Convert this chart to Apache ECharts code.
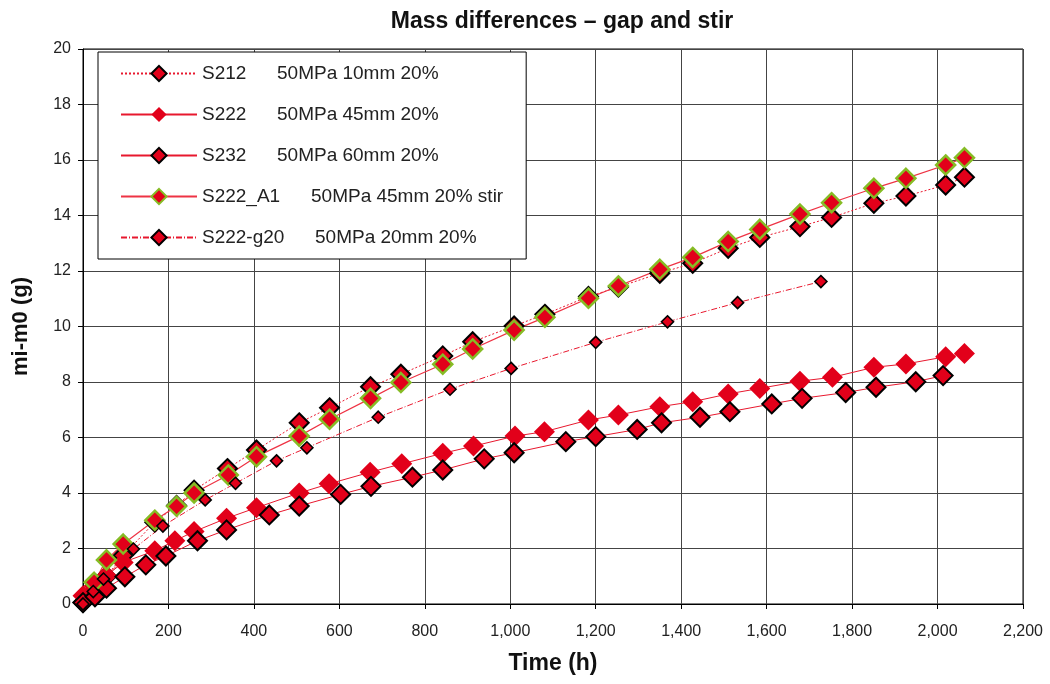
<!DOCTYPE html>
<html>
<head>
<meta charset="utf-8">
<script src="https://cdn.jsdelivr.net/npm/echarts@6/dist/echarts.min.js"></script>
<style>
html,body{margin:0;padding:0;background:#fff;}
#c{width:1050px;height:684px;}
</style>
</head>
<body>
<div id="c"></div>
<script>
// ---- data ----
const seriesNames = ['S212', 'S222', 'S232', 'S222_A1', 'S222-g20'];
const seriesDesc = ['50MPa 10mm 20%', '50MPa 45mm 20%', '50MPa 60mm 20%', '50MPa 45mm 20% stir', '50MPa 20mm 20%'];

const s212 = [[0,0.05],[26,0.45],[55,1.0],[94,1.75],[168,2.95],[219,3.55],[260,4.1],[338,4.88],[406,5.55],[506,6.53],[577,7.07],[673,7.83],[744,8.28],[842,8.94],[912,9.45],[1009,10.02],[1081,10.44],[1183,11.08],[1253,11.42],[1350,11.92],[1427,12.28],[1510,12.82],[1584,13.21],[1678,13.6],[1752,13.93],[1851,14.44],[1926,14.7],[2019,15.1],[2063,15.38]];
const s222 = [[0,0.3],[26,0.65],[55,1.02],[94,1.5],[168,1.92],[215,2.28],[260,2.61],[336,3.09],[406,3.47],[506,4.0],[576,4.33],[672,4.75],[746,5.05],[842,5.43],[914,5.69],[1011,6.05],[1080,6.21],[1183,6.63],[1253,6.81],[1350,7.11],[1427,7.29],[1510,7.57],[1584,7.77],[1678,8.03],[1754,8.17],[1851,8.53],[1926,8.65],[2019,8.91],[2063,9.03]];
const s232 = [[0,0.05],[28,0.26],[55,0.57],[98,0.98],[147,1.41],[194,1.73],[268,2.28],[336,2.67],[436,3.21],[506,3.53],[603,3.95],[674,4.24],[771,4.57],[842,4.83],[939,5.23],[1009,5.45],[1130,5.85],[1200,6.03],[1297,6.29],[1354,6.53],[1444,6.73],[1514,6.93],[1612,7.21],[1683,7.41],[1785,7.62],[1856,7.81],[1949,8.01],[2013,8.23]];
const s222a1 = [[26,0.78],[55,1.59],[94,2.16],[168,3.02],[219,3.52],[260,4.0],[340,4.65],[406,5.31],[506,6.05],[577,6.66],[673,7.41],[744,7.98],[842,8.64],[912,9.19],[1009,9.87],[1081,10.33],[1183,11.02],[1253,11.46],[1350,12.06],[1427,12.49],[1510,13.06],[1584,13.5],[1678,14.05],[1752,14.46],[1851,14.98],[1926,15.34],[2019,15.82],[2063,16.08]];
const s222g20 = [[0,0.0],[24,0.45],[48,0.9],[118,1.98],[187,2.81],[286,3.75],[357,4.35],[453,5.16],[524,5.63],[691,6.73],[859,7.74],[1002,8.49],[1200,9.43],[1368,10.17],[1532,10.86],[1727,11.62]];

const xTicks = {min: 0, max: 2200, interval: 200};
const yTicks = {min: 0, max: 20, interval: 2};

// ---- styles ----
const RED = '#e2001a';
const LINE = '#e8182e';
const GREEN = '#86bc25';
const FONT = '"Liberation Sans", Arial, sans-serif';

const chart = echarts.init(document.getElementById('c'), null, {renderer: 'canvas'});

function fmtThousands(v) {
  return String(v).replace(/\B(?=(\d{3})+(?!\d))/g, ',');
}

const keyWidths = [75, 75, 75, 109, 113];
const rich = {d: {fontSize: 19, lineHeight: 20, fontFamily: FONT, color: '#222'}};
seriesNames.forEach((n, i) => {
  rich['k' + i] = {width: keyWidths[i], fontSize: 19, lineHeight: 20, fontFamily: FONT, color: '#222'};
});

function mk(name, data, opts) {
  return Object.assign({
    name: name,
    type: 'line',
    data: data,
    symbol: 'diamond',
    symbolSize: 19,
    showAllSymbol: true,
    animation: false,
    lineStyle: {color: LINE, width: 1},
    itemStyle: {color: RED, borderColor: '#000', borderWidth: 2},
    emphasis: {disabled: true}
  }, opts);
}

const option = {
  animation: false,
  backgroundColor: '#fff',
  title: {
    text: 'Mass differences \u2013 gap and stir',
    left: 557, top: 5, textAlign: 'center',
    textStyle: {fontFamily: FONT, fontSize: 23, fontWeight: 'bold', color: '#111'}
  },
  grid: {left: 83, right: 27, top: 49, bottom: 80, show: true, borderColor: '#000', borderWidth: 1},
  legend: {
    orient: 'vertical',
    left: 98, top: 52,
    padding: [12, 23, 12, 22],
    itemGap: 22,
    itemWidth: 76,
    itemHeight: 19,
    backgroundColor: '#fff',
    borderColor: '#000',
    borderWidth: 1,
    borderRadius: 0,
    data: seriesNames,
    formatter: function (name) {
      const i = seriesNames.indexOf(name);
      return '{k' + i + '|' + name + '}{d|' + seriesDesc[i] + '}';
    },
    textStyle: {rich: rich, fontSize: 19, fontFamily: FONT, color: '#222'}
  },
  xAxis: {
    type: 'value',
    min: xTicks.min, max: xTicks.max, interval: xTicks.interval,
    name: 'Time (h)', nameLocation: 'middle', nameGap: 48,
    nameTextStyle: {fontFamily: FONT, fontSize: 23, fontWeight: 'bold', color: '#111'},
    axisLine: {show: true, lineStyle: {color: '#000', width: 1}},
    axisTick: {show: true, length: 5, lineStyle: {color: '#000'}},
    axisLabel: {margin: 20, fontFamily: FONT, fontSize: 16, color: '#222', formatter: fmtThousands},
    splitLine: {show: true, lineStyle: {color: '#444', width: 1}}
  },
  yAxis: {
    type: 'value',
    min: yTicks.min, max: yTicks.max, interval: yTicks.interval,
    name: 'mi-m0 (g)', nameLocation: 'middle', nameGap: 51, nameRotate: 90,
    nameTextStyle: {fontFamily: FONT, fontSize: 22, fontWeight: 'bold', color: '#111'},
    axisLine: {show: true, lineStyle: {color: '#000', width: 1}},
    axisTick: {show: true, length: 5, lineStyle: {color: '#000'}},
    axisLabel: {margin: 12, fontFamily: FONT, fontSize: 16, color: '#222'},
    splitLine: {show: true, lineStyle: {color: '#444', width: 1}}
  },
  series: [
    mk('S212', s212, {lineStyle: {color: LINE, width: 1, type: [2, 2]}}),
    mk('S222', s222, {itemStyle: {color: RED, borderWidth: 0}, symbolSize: 21}),
    mk('S232', s232, {}),
    mk('S222_A1', s222a1, {lineStyle: {color: '#ee3344', width: 1.2}, itemStyle: {color: RED, borderColor: GREEN, borderWidth: 2.5}}),
    mk('S222-g20', s222g20, {symbolSize: 12, lineStyle: {color: LINE, width: 1, type: [6, 2, 1, 2]}, itemStyle: {color: RED, borderColor: '#000', borderWidth: 1.6}})
  ]
};

chart.setOption(option);
</script>
</body>
</html>
